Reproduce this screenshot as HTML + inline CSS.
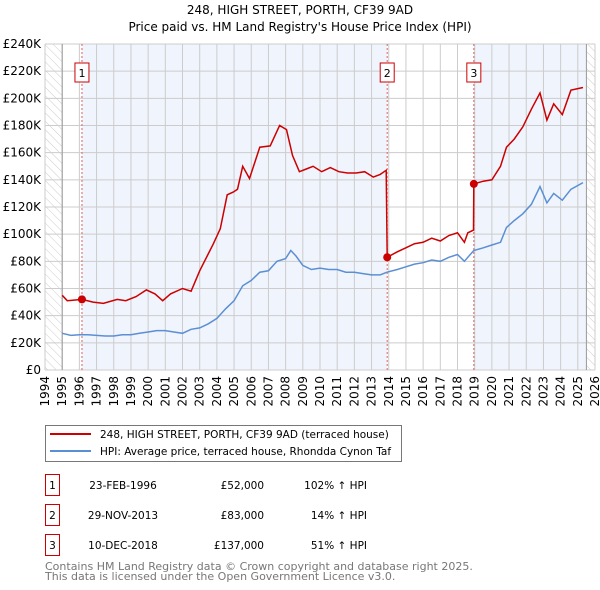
<!DOCTYPE html>
<html><head><meta charset="utf-8"><style>
body{margin:0;background:#fff;font-family:"DejaVu Sans","Liberation Sans",sans-serif;}
#wrap{position:relative;width:600px;height:590px;overflow:hidden}
svg text{font-family:"DejaVu Sans","Liberation Sans",sans-serif;}
</style></head><body><div id="wrap">
<svg id="c" width="600" height="590" xmlns="http://www.w3.org/2000/svg">
<defs><pattern id="hatch" width="6" height="6" patternUnits="userSpaceOnUse" patternTransform="rotate(-45)"><line x1="0" y1="0" x2="0" y2="6" stroke="#ccc" stroke-width="1"/></pattern></defs>
<text x="300" y="14" text-anchor="middle" font-size="12" fill="#000">248, HIGH STREET, PORTH, CF39 9AD</text>
<text x="300" y="31" text-anchor="middle" font-size="12" fill="#000">Price paid vs. HM Land Registry's House Price Index (HPI)</text>
<g id="plot"></g>
<rect x="45.5" y="425.5" width="356" height="36" fill="#fff" stroke="#777"/>
<line x1="50" y1="434" x2="91" y2="434" stroke="#cc0000" stroke-width="2"/>
<text x="100" y="438" font-size="10.5">248, HIGH STREET, PORTH, CF39 9AD (terraced house)</text>
<line x1="50" y1="451" x2="91" y2="451" stroke="#5b8fd4" stroke-width="2"/>
<text x="100" y="455" font-size="10.5">HPI: Average price, terraced house, Rhondda Cynon Taf</text>
<g id="table" font-size="10.5"></g>
<text x="45" y="570" font-size="11" fill="#777">Contains HM Land Registry data © Crown copyright and database right 2025.</text>
<text x="45" y="580" font-size="11" fill="#777">This data is licensed under the Open Government Licence v3.0.</text>
</svg></div>
<script>
const hpiYears=[1995,1995.5,1996,1996.5,1997,1997.5,1998,1998.5,1999,1999.5,2000,2000.5,2001,2001.5,2002,2002.5,2003,2003.5,2004,2004.5,2005,2005.5,2006,2006.5,2007,2007.5,2008,2008.3,2008.6,2009,2009.5,2010,2010.5,2011,2011.5,2012,2012.5,2013,2013.5,2013.9,2014.5,2015,2015.5,2016,2016.5,2017,2017.5,2018,2018.4,2018.6,2018.95,2019.5,2020,2020.5,2020.85,2021.3,2021.8,2022.3,2022.8,2023.2,2023.6,2024.1,2024.6,2025.3];
const hpiValues=[27,25.5,26,26,25.5,25,25,26,26,27,28,29,29,28,27,30,31,34,38,45,51,62,66,72,73,80,82,88,84,77,74,75,74,74,72,72,71,70,70,72,74,76,78,79,81,80,83,85,80,83,88,90,92,94,105,110,115,122,135,123,130,125,133,138];
const priceYears=[1995,1995.3,1996.15,1996.8,1997.4,1998.2,1998.7,1999.3,1999.9,2000.4,2000.85,2001.3,2002.0,2002.5,2003.0,2003.8,2004.2,2004.6,2004.95,2005.2,2005.5,2005.9,2006.5,2007.1,2007.65,2008.05,2008.4,2008.8,2009.2,2009.6,2010.1,2010.6,2011.1,2011.6,2012.1,2012.6,2013.1,2013.5,2013.85,2013.91,2014.5,2015,2015.5,2016,2016.5,2017,2017.5,2018,2018.4,2018.6,2018.93,2018.95,2019.5,2020,2020.5,2020.85,2021.3,2021.8,2022.3,2022.8,2023.2,2023.6,2024.1,2024.6,2025.3];
const priceValues=[55,51,52,50,49,52,51,54,59,56,51,56,60,58,73,93,104,129,131,133,150,141,164,165,180,177,158,146,148,150,146,149,146,145,145,146,142,144,147,83,87,90,93,94,97,95,99,101,94,101,103,137,139,140,150,164,170,179,192,204,184,196,188,206,208];
const sales=[{n:"1",y:1996.15,v:52,date:"23-FEB-1996",price:"£52,000",pct:"102% ↑ HPI"},{n:"2",y:2013.91,v:83,date:"29-NOV-2013",price:"£83,000",pct:"14% ↑ HPI"},{n:"3",y:2018.95,v:137,date:"10-DEC-2018",price:"£137,000",pct:"51% ↑ HPI"}];
const yTicks=[0,20,40,60,80,100,120,140,160,180,200,220,240];
const xTickYears=[1994,1995,1996,1997,1998,1999,2000,2001,2002,2003,2004,2005,2006,2007,2008,2009,2010,2011,2012,2013,2014,2015,2016,2017,2018,2019,2020,2021,2022,2023,2024,2025,2026];
const dataStart=1995,dataEnd=2025.5;
const X0=45,X1=595,Y0=370,Y1=44;
const xs=y=>X0+(y-1994)/(2026-1994)*(X1-X0);
const ys=v=>Y0-(v/240)*(Y0-Y1);
const NS="http://www.w3.org/2000/svg";
const plot=document.getElementById('plot');
function mk(t,a,p){const e=document.createElementNS(NS,t);for(const k in a)e.setAttribute(k,a[k]);(p||plot).appendChild(e);return e;}
let r=mk('rect',{x:X0,y:Y1,width:xs(dataStart)-X0,height:Y0-Y1,fill:'url(#hatch)'});

r=mk('rect',{x:xs(dataEnd),y:Y1,width:X1-xs(dataEnd),height:Y0-Y1,fill:'url(#hatch)'});

r=mk('rect',{x:xs(sales[0].y),y:Y1,width:xs(sales[1].y)-xs(sales[0].y),height:Y0-Y1,fill:'#f0f4fc'});

r=mk('rect',{x:xs(sales[2].y),y:Y1,width:xs(dataEnd)-xs(sales[2].y),height:Y0-Y1,fill:'#f0f4fc'});

yTicks.forEach(v=>{const l=mk('line',{x1:X0,x2:X1,y1:ys(v),y2:ys(v),stroke:'#ccc','stroke-width':1});

const t=mk('text',{x:X0-4,y:ys(v)+4,'text-anchor':'end','font-size':12});t.textContent=v===0?'£0':'£'+v+'K';
});
xTickYears.forEach(y=>{const l=mk('line',{x1:xs(y),x2:xs(y),y1:Y1,y2:Y0,stroke:'#ccc','stroke-width':1});

const t=mk('text',{x:0,y:0,'text-anchor':'end','font-size':12,transform:`translate(${xs(y)+4},${Y0+6}) rotate(-90)`});t.textContent=y;
});
let a=mk('line',{x1:xs(dataStart),x2:xs(dataStart),y1:Y1,y2:Y0,stroke:'#999'});
a=mk('line',{x1:xs(dataEnd),x2:xs(dataEnd),y1:Y1,y2:Y0,stroke:'#999'});
sales.forEach(s=>{const l=mk('line',{x1:xs(s.y),x2:xs(s.y),y1:Y1,y2:Y0,stroke:'#e06060','stroke-dasharray':'2,2'});

const b=mk('rect',{x:xs(s.y)-7,y:63,width:14,height:19,fill:'#fff',stroke:'#cc0000'});

const t=mk('text',{x:xs(s.y),y:77,'text-anchor':'middle','font-size':11});t.textContent=s.n;
});
const path=(xsA,vs)=>xsA.map((y,i)=>(i?'L':'M')+xs(y).toFixed(1)+','+ys(vs[i]).toFixed(1)).join('');
let p=mk('path',{d:path(hpiYears,hpiValues),fill:'none',stroke:'#5b8fd4','stroke-width':1.5});

p=mk('path',{d:path(priceYears,priceValues),fill:'none',stroke:'#cc0000','stroke-width':1.5});

sales.forEach(s=>{const c=mk('circle',{cx:xs(s.y),cy:ys(s.v),r:4,fill:'#cc0000'});
});
const tb=document.getElementById('table');
sales.forEach((s,i)=>{const yy=485+i*30;
const b=mk('rect',{x:45.5,y:yy-10.5,width:14,height:21,fill:'#fff',stroke:'#cc0000'},tb);

let t=mk('text',{x:52.5,y:yy+4,'text-anchor':'middle'},tb);t.textContent=s.n;
t=mk('text',{x:123,y:yy+4,'text-anchor':'middle'},tb);t.textContent=s.date;
t=mk('text',{x:264,y:yy+4,'text-anchor':'end'},tb);t.textContent=s.price;
t=mk('text',{x:367,y:yy+4,'text-anchor':'end'},tb);t.textContent=s.pct;});
</script></body></html>
